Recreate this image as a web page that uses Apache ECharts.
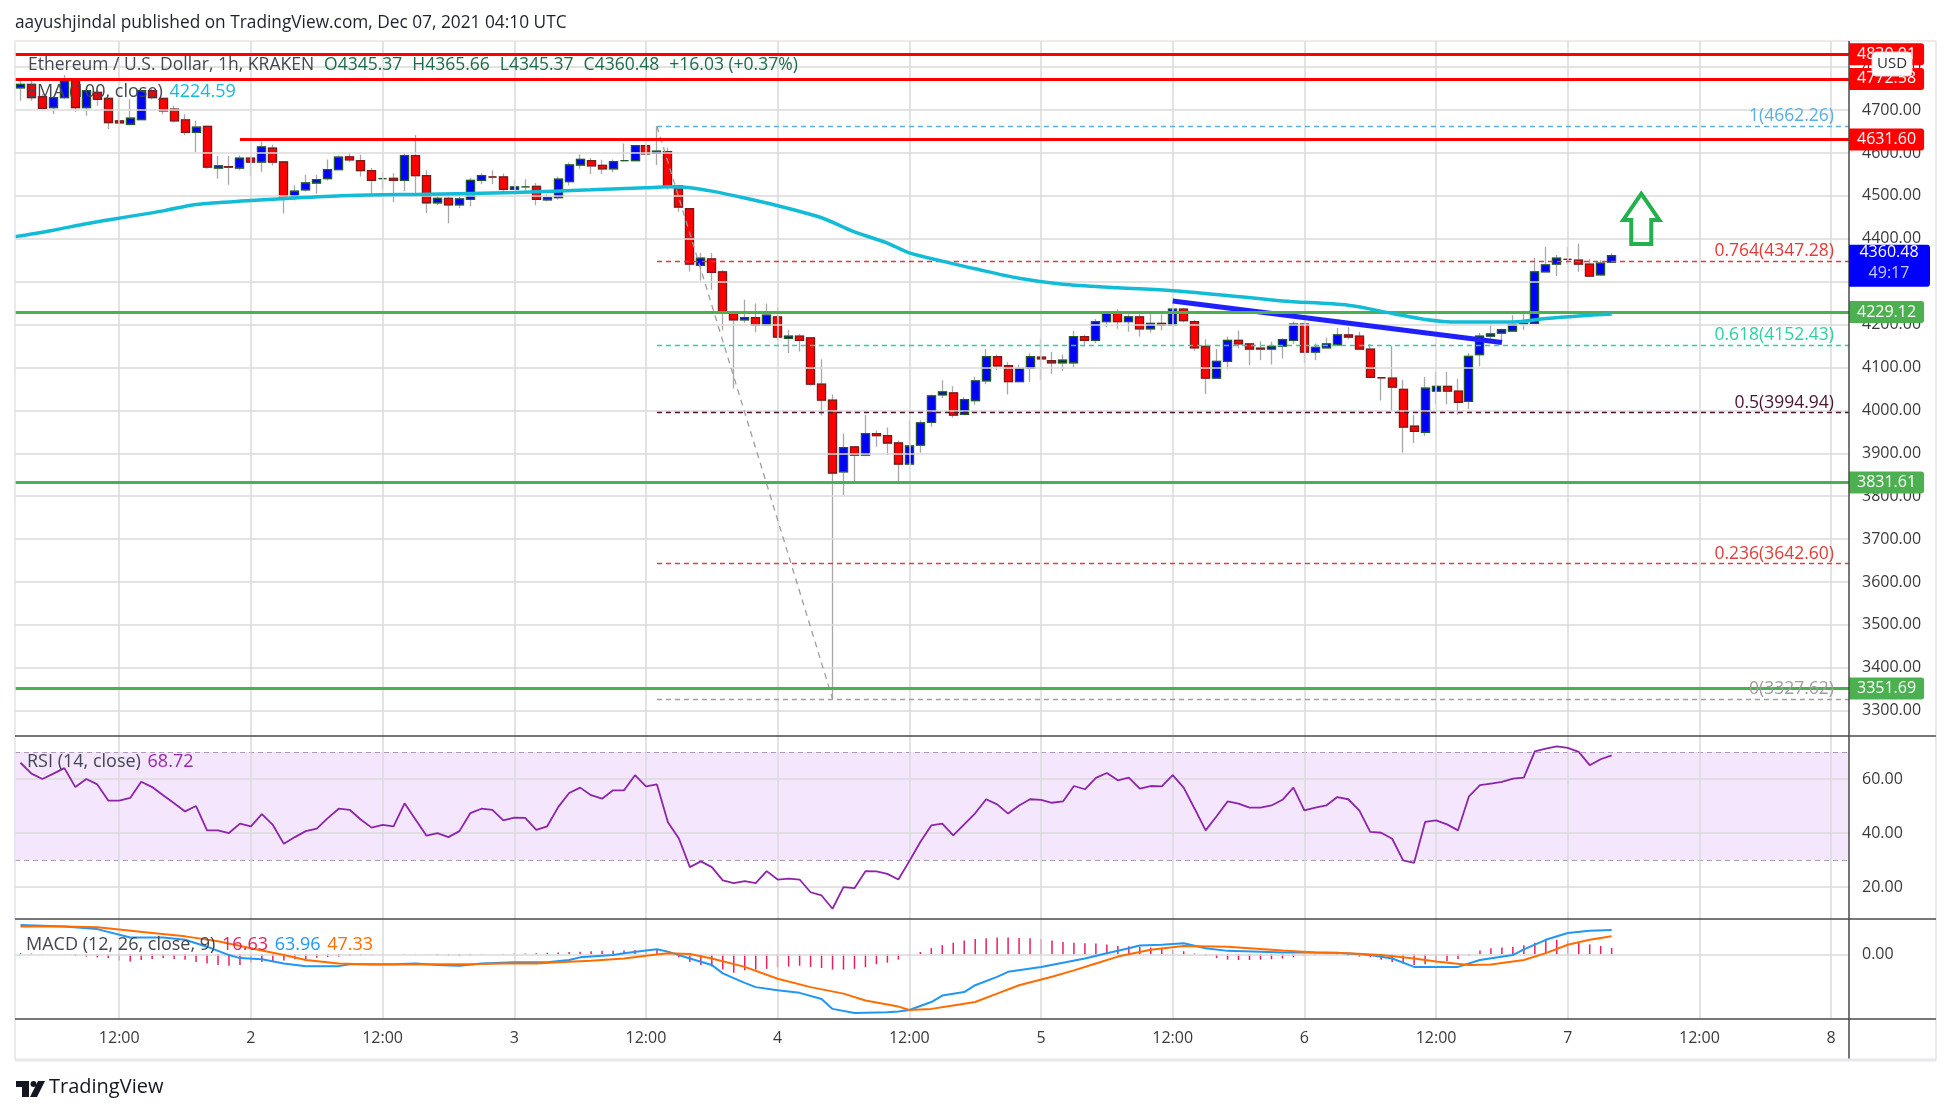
<!DOCTYPE html>
<html><head><meta charset="utf-8">
<script src="https://cdn.jsdelivr.net/npm/echarts@6/dist/echarts.min.js"></script>
<style>html,body{margin:0;padding:0;background:#fff;}#c{width:1950px;height:1114px;}</style>
</head><body><div id="c"></div>
<script>
// ---------------- DATA ----------------
const xMin = 2.5, xMax = 169.63;           // hours since Dec 1 00:00 (visible range)
const firstCandleHour = 3;
// [open, close, low, high] per hour, Dec 1 03:00 .. Dec 7 04:00
const candles = [
[4752,4760,4722,4772],[4760,4729,4722,4768],[4731,4704,4700,4737],[4706,4729,4691,4733],[4729,4768,4725,4781],
[4768,4706,4696,4772],[4706,4745,4687,4752],[4741,4725,4710,4748],[4727,4671,4656,4729],[4675,4670,4668,4725],
[4667,4681,4664,4725],[4678,4745,4676,4750],[4745,4729,4725,4750],[4727,4698,4690,4729],[4702,4675,4671,4710],
[4677,4648,4642,4690],[4648,4660,4602,4675],[4662,4567,4563,4664],[4565,4570,4540,4593],[4568,4567,4526,4593],
[4565,4588,4560,4594],[4588,4579,4547,4594],[4579,4614,4556,4626],[4611,4579,4571,4619],[4579,4495,4459,4581],
[4495,4511,4489,4525],[4514,4530,4510,4549],[4530,4538,4505,4549],[4540,4561,4535,4585],[4561,4590,4560,4594],
[4591,4584,4579,4600],[4582,4559,4545,4596],[4559,4536,4502,4565],[4540,4540,4514,4555],[4541,4536,4485,4553],
[4536,4594,4511,4599],[4594,4547,4506,4642],[4547,4484,4460,4560],[4484,4494,4479,4500],[4494,4479,4436,4500],
[4479,4493,4471,4506],[4492,4536,4476,4542],[4536,4547,4527,4553],[4544,4544,4527,4560],[4544,4515,4506,4552],
[4515,4521,4514,4537],[4521,4521,4506,4539],[4522,4492,4478,4530],[4491,4496,4487,4503],[4496,4539,4491,4545],
[4533,4572,4524,4578],[4572,4585,4563,4597],[4582,4570,4551,4588],[4571,4563,4551,4584],[4563,4580,4555,4585],
[4582,4582,4580,4622],[4582,4617,4580,4618],[4617,4598,4596,4619],[4599,4604,4572,4662.26],[4603,4523,4515,4612],
[4523,4474,4463,4525],[4470,4341,4324,4472],[4338,4355,4303,4367],[4353,4322,4281,4367],[4323,4230,4187,4327],
[4230,4211,4051,4232],[4211,4216,4204,4258],[4216,4199,4182,4249],[4199,4222,4198,4249],[4218,4171,4163,4240],
[4168,4173,4134,4188],[4173,4163,4137,4178],[4169,4061,4058,4171],[4061,4024,3988,4119],[4024,3854,3327.62,4037],
[3857,3913,3802,3946],[3915,3896,3832,3916],[3896,3946,3893,3989],[3946,3941,3915,3953],[3941,3924,3896,3960],
[3924,3875,3832,3930],[3875,3917,3873,3977],[3919,3971,3901,3977],[3972,4034,3962,4037],[4036,4043,4029,4070],
[4041,3989,3983,4056],[3991,4025,3990,4030],[4023,4069,4013,4078],[4069,4125,4061,4143],[4125,4104,4094,4130],
[4104,4067,4037,4112],[4067,4098,4067,4107],[4098,4125,4066,4133],[4124,4120,4071,4166],[4116,4111,4085,4136],
[4111,4117,4092,4130],[4111,4172,4100,4185],[4172,4163,4149,4176],[4163,4207,4157,4213],[4207,4230,4194,4231],
[4230,4207,4190,4236],[4207,4218,4183,4224],[4218,4190,4172,4224],[4190,4203,4181,4228],[4203,4199,4187,4224],
[4199,4236,4199,4239],[4236,4209,4205,4239],[4207,4146,4139,4211],[4149,4075,4038,4166],[4075,4114,4075,4143],
[4114,4163,4096,4172],[4163,4155,4145,4186],[4155,4143,4106,4156],[4145,4143,4117,4161],[4143,4149,4107,4160],
[4150,4165,4121,4168],[4163,4201,4155,4207],[4201,4136,4111,4207],[4136,4147,4117,4156],[4146,4155,4144,4170],
[4153,4176,4153,4192],[4176,4171,4166,4194],[4173,4143,4143,4183],[4143,4077,4077,4155],[4076,4076,4023,4077],
[4075,4054,4000,4151],[4049,3961,3901,4071],[3963,3951,3924,3990],[3949,4052,3941,4078],[4045,4056,4015,4090],
[4056,4045,4014,4090],[4045,4019,3990,4074],[4021,4126,4003,4134],[4130,4173,4103,4181],[4173,4178,4163,4201],
[4180,4188,4157,4191],[4185,4200,4183,4222],[4202,4203,4188,4232],[4203,4323,4203,4356],[4323,4339,4322,4381],
[4341,4355,4313,4362],[4352,4352,4340,4381],[4350,4341,4323,4389],[4341,4313,4313,4353],[4316,4343,4313,4350],
[4345.37,4360.48,4345.37,4365.66]
];
// EMA(100) read points [hour, value]
const emaPoints = [[2.5,4405],[6,4420],[9,4435],[12,4448],[16,4465],[19,4480],[24,4489],[28,4495],[33,4501],[40,4504],
[48,4508],[55,4514],[60,4519],[62,4521],[64,4519],[66,4511],[69,4495],[72,4477],[76,4449],[79,4416],[82,4390],[84,4367],
[87,4348],[90,4330],[94,4308],[98,4294],[103,4286],[108,4279],[113,4268],[118,4255],[124,4245],[128,4226],[131,4212],
[134,4206],[139,4206],[142,4214],[145,4220],[148,4224.59]];
// RSI(14) per hour from hour 3
const rsiValues = [66,62,60,62,64,57,60,58,52,52, 53,59,57,54,51,48,50,41,41,40, 43.5,42.5,47,43,36,38.5,40.7,41.6,45.5,49,
48.6,45,42,43,42.5,51,45,39,40,38.5, 40.7,47.4,49,48.6,44.7,45.7,45.6,41.2,42.5,49.6, 54.8,56.8,54,52.7,55.8,55.8,61.4,57.3,58,44,
38,27.4,29.5,27.4,22.5,21.5,22.2,21.5,25.9,22.8, 23.1,22.8,18.1,16.9,12,20,19.6,25.9,25.8,24.9, 22.8,29.6,36.7,42.8,43.5,39.1,43.2,47.3,52.5,50.6,
47.2,50.2,52.5,52.3,51.2,51.7,57.4,56.2,60.4,62.2, 59.5,60.5,56.4,57.4,57.3,61.4,56.8,49,41,46.2, 51.7,50.9,49.4,49.4,50.2,52.3,56.8,48.4,49.4,50.2,
53.3,52.5,48.4,40.4,40.1,37.9,29.9,29,44.1,44.7, 43.2,41,53.6,57.7,58.3,58.9,60.1,60.5,70.2,71.2, 72.1,71.5,70,65.1,67.3,68.72];
// MACD line and signal line read points [hour, value]
const macdPoints = [[3,77],[7,73],[10,66],[13,44],[16,44],[18,38],[20,20],[22,-2],[23,-10],[25,-13],[27,-24],[29,-31],[32,-31],
[33,-26],[37,-26],[39,-24],[41,-28],[43,-30],[45,-24],[48,-21],[51,-21],[53,-15],[54,-8],[57,-2],[58,3],[60,10],[61,13],[62,7],
[64,-11],[66,-28],[67,-50],[69,-75],[70,-86],[72,-94],[74,-101],[76,-117],[77,-143],[79,-154],[82,-152],[83,-150],[84,-146],
[86,-125],[87,-108],[89,-99],[90,-81],[92,-59],[93,-46],[96,-33],[98,-22],[100,-11],[102,3],[104,16],[105,23],[107,25],[109,29],
[111,16],[113,9],[116,7],[118,5],[120,5],[123,4],[126,-2],[128,-11],[130,-33],[134,-33],[136,-15],[139,-2],[140,13],[142,38],
[144,56],[146,62],[148,63.96]];
const signalPoints = [[3,73],[7,73],[10,71],[12,65],[15,56],[18,47],[21,34],[24,16],[27,-2],[29,-15],[32,-24],[35,-27],[38,-27],
[41,-26],[44,-26],[47,-24],[50,-24],[52,-21],[55,-17],[58,-11],[60,-4],[62,3],[64,1],[66,-11],[69,-33],[72,-64],[75,-86],[78,-103],
[80,-121],[83,-137],[84,-146],[86,-143],[88,-134],[90,-125],[92,-103],[94,-81],[97,-59],[99,-42],[101,-24],[103,-6],[106,12],
[109,22],[113,20],[115,16],[118,10],[121,5],[124,3],[127,-2],[130,-11],[132,-19],[135,-28],[137,-27],[140,-15],[142,3],[144,25],
[146,38],[148,47.33]];
// MACD histogram per hour from hour 3
const histValues = [3,2,1,0,-1,-4,-6,-8,-10,-16, -19,-15,-12,-10,-12,-14,-20,-24,-28,-30, -28,-22,-20,-18,-16,-13,-12,-9,-7,-6,
-4,-3,-2,-1,0,1,1,-1,-2,-3, -4,-3,-1,0,1,2,2,3,4,5, 6,7,8,9,9,10,11,12,12,5, -8,-20,-28,-32,-40,-48,-42,-40,-38,-34,
-32,-30,-33,-36,-40,-40,-38,-34,-26,-22, -14,-4,6,16,24,30,36,40,42,44, 44,43,42,40,36,32,30,29,28,26,
22,21,20,18,15,12,8,2,-4,-10, -14,-15,-15,-14,-13,-11,-8,-4,-2,-1, -2,-4,-6,-8,-14,-20,-24,-28,-26,-22,
-18,-12,-4,10,16,18,20,24,30,36, 38,36,32,26,22,16.63];

const priceTicks = [3300,3400,3500,3600,3700,3800,3900,4000,4100,4200,4300,4400,4500,4600,4700,4800];
const rsiTicks = [20,40,60];
const macdTicks = [0];
const timeTicks = [12,24,36,48,60,72,84,96,108,120,132,144,156,168];
const priceRange = [3241, 4861], rsiRange = [8.2, 75.9], macdRange = [-169.5, 92.5];

const redLevels = [4830.01, 4772.58];
const resistanceLevel = 4631.60, resistanceStartHour = 23;
const greenLevels = [4229.12, 3831.61, 3351.69];
const fibRatios = ['1','0.764','0.618','0.5','0.236','0'];
const fibPrices = [4662.26, 4347.28, 4152.43, 3994.94, 3642.60, 3327.62];
const fibStartHour = 61;
const fibDiagonal = [[61, 4662.26], [77, 3327.62]];
const trendLine = [[108, 4255], [138, 4158]];
const lastPrice = 4360.48, countdown = '49:17';
const rsiBand = [30, 70];
const arrowHour = 150.7, arrowPrices = [4505, 4444, 4388]; // tip, head base, tail

const titleText = 'aayushjindal published on TradingView.com, Dec 07, 2021 04:10 UTC';
const symbolText = 'Ethereum / U.S. Dollar, 1h, KRAKEN';
const ohlcTexts = ['O4345.37','H4365.66','L4345.37','C4360.48','+16.03 (+0.37%)'];
const emaLegend = ['EMA (100, close)', '4224.59'];
const rsiLegend = ['RSI (14, close)', '68.72'];
const macdLegend = ['MACD (12, 26, close, 9)', '16.63', '63.96', '47.33'];
const dayLabel = h => (h % 24 === 0 ? String(h / 24 + 1) : '12:00');

// ---------------- CHART ----------------
const FONT = '"Open Sans", "Noto Sans", sans-serif';
const chart = echarts.init(document.getElementById('c'), null, {width:1950, height:1114});
const GL = {color:'#dadada', width:1.5, type:'solid'};
const grids = [
  {left:15, top:41, width:1834, height:695},
  {left:15, top:736, width:1834, height:183},
  {left:15, top:919, width:1834, height:100}
];
const ranges = [priceRange, rsiRange, macdRange];
const hTicks = [priceTicks, rsiTicks, macdTicks];

function xAx(i){
  return {type:'value', gridIndex:i, min:xMin, max:xMax,
    splitLine:{show:false}, axisLine:{show:false}, axisTick:{show:false},
    axisLabel: i===2 ? {show:true, customValues:timeTicks, formatter:v=>dayLabel(v), fontSize:16, color:'#3a3a3a', margin:11, fontFamily:FONT}
                     : {show:false}};
}
function yAx(i){
  return {type:'value', gridIndex:i, position:'right', min:ranges[i][0], max:ranges[i][1],
    splitLine:{show:false}, axisLine:{show:false}, axisTick:{show:false},
    axisLabel:{show:true, customValues:hTicks[i], formatter:v=>Number(v).toFixed(2), fontSize:16, color:'#3a3a3a', margin:13, fontFamily:FONT}};
}
function gridSeries(i){
  return {type:'line', xAxisIndex:i, yAxisIndex:i, data:[[xMin, ranges[i][0]]], symbol:'none', lineStyle:{opacity:0},
    silent:true, z:1, animation:false,
    markLine:{silent:true, symbol:'none', animation:false, label:{show:false}, lineStyle:GL,
      data:[...timeTicks.map(t=>({xAxis:t})), ...hTicks[i].map(v=>({yAxis:v}))]}};
}
function boxLabel(p, bg){
  return {show:true, position:'end', distance:0, formatter:p.toFixed(2), color:'#fff', backgroundColor:bg,
    padding:[3,8,3,8], fontSize:16, fontFamily:FONT, borderRadius:[0,3,3,0]};
}
const fibColors = ['#5aaee0','#e53935','#2fd0a0','#4a1432','#e0403a','#9e9e9e'];

const levelLines = [];
redLevels.forEach(p=>levelLines.push({yAxis:p, lineStyle:{color:'#ff0000', width:3, type:'solid'}, label:boxLabel(p,'#ff0000')}));
levelLines.push([{coord:[resistanceStartHour, resistanceLevel], lineStyle:{color:'#ff0000', width:3, type:'solid'}, label:boxLabel(resistanceLevel,'#ff0000')},
                 {coord:[xMax, resistanceLevel]}]);
greenLevels.forEach(p=>levelLines.push({yAxis:p, lineStyle:{color:'#4caf50', width:3, type:'solid'}, label:boxLabel(p,'#4caf50')}));

const fibLines = fibPrices.map((p,k)=>[
  {coord:[fibStartHour, p], lineStyle:{color:fibColors[k], width:1.3, type:[5,4]},
   label:{show:true, position:'insideEndTop', formatter:fibRatios[k]+'('+p.toFixed(2)+')', color:fibColors[k], fontSize:17.5, fontFamily:FONT, distance:1, padding:[0,14,0,0]}},
  {coord:[xMax, p]}]);
fibLines.push([{coord:fibDiagonal[0], lineStyle:{color:'#9e9e9e', width:1.3, type:[6,5]}, label:{show:false}}, {coord:fibDiagonal[1]}]);
fibLines.push([{coord:trendLine[0], lineStyle:{color:'#2020ff', width:5, type:'solid'}, label:{show:false}}, {coord:trendLine[1]}]);

const wickData = candles.map((c,i)=>[firstCandleHour+i, c[0], c[1], c[2], c[3]]);
const bodyData = candles.map((c,i)=>[firstCandleHour+i, c[0], c[1], Math.min(c[0],c[1]), Math.max(c[0],c[1])]);

const option = {
  animation:false,
  textStyle:{fontFamily:FONT},
  grid:grids,
  xAxis:[xAx(0), xAx(1), xAx(2)],
  yAxis:[yAx(0), yAx(1), yAx(2)],
  series:[
    gridSeries(0),
    {type:'line', xAxisIndex:1, yAxisIndex:1, data:[[xMin, rsiRange[0]]], symbol:'none', lineStyle:{opacity:0}, silent:true, z:0,
      markArea:{silent:true, itemStyle:{color:'#f3e6fd'}, data:[[{yAxis:rsiBand[0]},{yAxis:rsiBand[1]}]]},
      markLine:{silent:true, symbol:'none', label:{show:false}, lineStyle:{color:'#ab9bb8', width:1, type:[5,4]},
        data:rsiBand.map(v=>({yAxis:v}))}},
    gridSeries(1),
    gridSeries(2),
    {type:'candlestick', xAxisIndex:0, yAxisIndex:0, data:wickData, encode:{x:0, y:[1,2,3,4]}, barWidth:8.5, z:3,
      itemStyle:{color:'#0000ff', color0:'#ff0000', borderColor:'#a8a8a8', borderColor0:'#a8a8a8', borderWidth:1.3}},
    {type:'candlestick', xAxisIndex:0, yAxisIndex:0, data:bodyData, encode:{x:0, y:[1,2,3,4]}, barWidth:8.5, z:4,
      itemStyle:{color:'#0000ff', color0:'#ff0000', borderColor:'#1f5a2a', borderColor0:'#7a1c1c', borderWidth:1.3}},
    {type:'line', xAxisIndex:0, yAxisIndex:0, data:emaPoints, symbol:'none', smooth:0.3, z:5,
      lineStyle:{color:'#13bcd6', width:3.5}},
    {type:'line', xAxisIndex:0, yAxisIndex:0, data:[[xMin, priceRange[0]]], symbol:'none', lineStyle:{opacity:0}, silent:true, z:6,
      markLine:{silent:true, symbol:'none', animation:false, data:fibLines}},
    {type:'line', xAxisIndex:0, yAxisIndex:0, data:[[xMin, priceRange[0]]], symbol:'none', lineStyle:{opacity:0}, silent:true, z:7,
      markLine:{silent:true, symbol:'none', animation:false, data:levelLines}},
    {type:'line', xAxisIndex:1, yAxisIndex:1, data:rsiValues.map((v,i)=>[firstCandleHour+i, v]), symbol:'none', z:5,
      lineStyle:{color:'#8e24aa', width:1.8}},
    {type:'bar', xAxisIndex:2, yAxisIndex:2, data:histValues.map((v,i)=>[firstCandleHour+i, v]), barWidth:1.5, z:4,
      itemStyle:{color:'#e91e63'}},
    {type:'line', xAxisIndex:2, yAxisIndex:2, data:macdPoints, symbol:'none', z:5, lineStyle:{color:'#2196f3', width:2}},
    {type:'line', xAxisIndex:2, yAxisIndex:2, data:signalPoints, symbol:'none', z:5, lineStyle:{color:'#ff6d00', width:2}}
  ]
};
chart.setOption(option);

// ---------- annotations (positions through the chart's own scales) ----------
const px = (h,p)=>chart.convertToPixel({gridIndex:0}, [h,p]);
const tip = px(arrowHour, arrowPrices[0]), head = px(arrowHour, arrowPrices[1]), tail = px(arrowHour, arrowPrices[2]);
const cx = tip[0];
const lastY = px(xMax, lastPrice)[1];
const plotRight = px(xMax, lastPrice)[0];
const lineC = '#4a4a4a';
const LF = 18;
const graphic = [
  {type:'text', left:15, top:15, style:{text:titleText, fontSize:17.3, fill:'#1e222d', fontFamily:FONT}},
  {type:'text', left:28, top:56, z:100, style:{rich:{n:{fontSize:17.5, fill:'#434651', fontFamily:FONT}, v:{fontSize:17.5, fill:'#1f6b45', fontFamily:FONT}},
     text:'{n|'+symbolText+'}   '+ohlcTexts.map(t=>'{v|'+t+'}').join('   ')}},
  {type:'text', left:27, top:83, z:100, style:{rich:{n:{fontSize:LF, fill:'#434651', fontFamily:FONT}, v:{fontSize:LF, fill:'#13bcd6', fontFamily:FONT}},
     text:'{n|'+emaLegend[0]+'}  {v|'+emaLegend[1]+'}'}},
  {type:'text', left:27, top:753, z:100, style:{rich:{n:{fontSize:LF, fill:'#434651', fontFamily:FONT}, v:{fontSize:LF, fill:'#9c27b0', fontFamily:FONT}},
     text:'{n|'+rsiLegend[0]+'}  {v|'+rsiLegend[1]+'}'}},
  {type:'text', left:26, top:936, z:100, style:{rich:{n:{fontSize:LF, fill:'#434651', fontFamily:FONT}, a:{fontSize:LF, fill:'#e91e63', fontFamily:FONT},
     b:{fontSize:LF, fill:'#2196f3', fontFamily:FONT}, c:{fontSize:LF, fill:'#ff6d00', fontFamily:FONT}},
     text:'{n|'+macdLegend[0]+'}  {a|'+macdLegend[1]+'}  {b|'+macdLegend[2]+'}  {c|'+macdLegend[3]+'}'}},
  // frame
  {type:'line', z:50, shape:{x1:15, y1:41, x2:1936, y2:41}, style:{stroke:'#e6d3d3', lineWidth:1}},
  {type:'line', z:50, shape:{x1:15, y1:41, x2:15, y2:1060}, style:{stroke:'#e0e3eb', lineWidth:1.5}},
  {type:'line', z:50, shape:{x1:1936, y1:41, x2:1936, y2:1060}, style:{stroke:'#e0e3eb', lineWidth:1.5}},
  {type:'line', z:50, shape:{x1:15, y1:736, x2:1936, y2:736}, style:{stroke:lineC, lineWidth:1.5}},
  {type:'line', z:50, shape:{x1:15, y1:919, x2:1936, y2:919}, style:{stroke:lineC, lineWidth:1.5}},
  {type:'line', z:50, shape:{x1:15, y1:1019, x2:1936, y2:1019}, style:{stroke:lineC, lineWidth:1.5}},
  {type:'line', z:50, shape:{x1:plotRight, y1:41, x2:plotRight, y2:1060}, style:{stroke:lineC, lineWidth:1.5}},
  {type:'line', z:50, shape:{x1:15, y1:1060, x2:1936, y2:1060}, style:{stroke:'#e6e8ee', lineWidth:3}},
  // current price box
  {type:'rect', z:60, shape:{x:plotRight, y:lastY-11, width:81, height:42, r:[0,3,3,0]}, style:{fill:'#0000ff'}},
  {type:'text', z:61, x:plotRight+40, y:lastY-3, style:{text:lastPrice.toFixed(2), fill:'#ffffff', fontSize:16, fontFamily:FONT, align:'center', verticalAlign:'middle'}},
  {type:'text', z:61, x:plotRight+40, y:lastY+18, style:{text:countdown, fill:'#c9c9ff', fontSize:16, fontFamily:FONT, align:'center', verticalAlign:'middle'}},
  // USD badge
  {type:'rect', z:70, shape:{x:1872, y:52, width:40, height:24, r:4}, style:{fill:'#ffffff', stroke:'#d0d3da', lineWidth:1}},
  {type:'text', z:71, x:1892, y:64, style:{text:'USD', fill:'#2a2e39', fontSize:15, fontFamily:FONT, align:'center', verticalAlign:'middle'}},
  // green up arrow
  {type:'polygon', z:80, shape:{points:[[cx, tip[1]],[cx+18, head[1]],[cx+10, head[1]],[cx+10, tail[1]],[cx-10, tail[1]],[cx-10, head[1]],[cx-18, head[1]]]},
     style:{fill:'none', stroke:'#22b14c', lineWidth:4, lineJoin:'miter'}},
  // TradingView logo
  {type:'rect', z:80, shape:{x:16, y:1081, width:13, height:6}, style:{fill:'#131722'}},
  {type:'rect', z:80, shape:{x:22, y:1081, width:7, height:16}, style:{fill:'#131722'}},
  {type:'circle', z:80, shape:{cx:33.5, cy:1084, r:3}, style:{fill:'#131722'}},
  {type:'polygon', z:80, shape:{points:[[38,1081],[45,1081],[37,1097],[30,1097]]}, style:{fill:'#131722'}},
  {type:'text', z:80, left:49, top:1077, style:{text:'TradingView', fill:'#131722', fontSize:20, fontFamily:FONT}}
];
chart.setOption({graphic:graphic});
</script></body></html>
